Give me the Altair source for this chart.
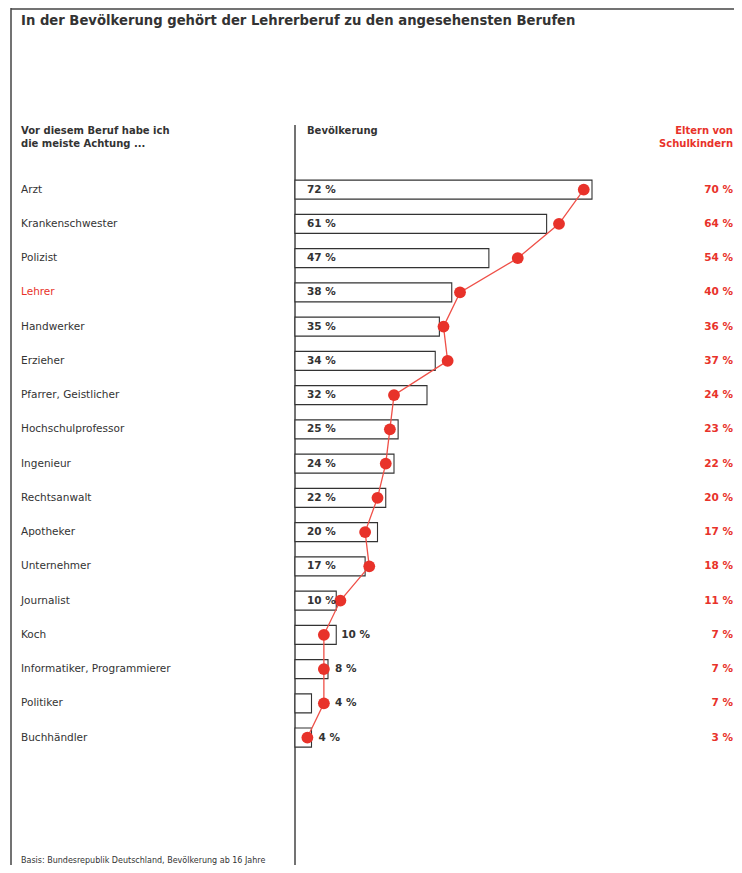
import altair as alt
import pandas as pd
import numpy as np

berufe = ["Arzt", "Krankenschwester", "Polizist", "Lehrer", "Handwerker", "Erzieher",
          "Pfarrer, Geistlicher", "Hochschulprofessor", "Ingenieur", "Rechtsanwalt",
          "Apotheker", "Unternehmer", "Journalist", "Koch",
          "Informatiker, Programmierer", "Politiker", "Buchhändler"]
bevoelkerung = [72, 61, 47, 38, 35, 34, 32, 25, 24, 22, 20, 17, 10, 10, 8, 4, 4]
eltern = [70, 64, 54, 40, 36, 37, 24, 23, 22, 20, 17, 18, 11, 7, 7, 7, 3]

title_text = "In der Bevölkerung gehört der Lehrerberuf zu den angesehensten Berufen"
header_left = ["Vor diesem Beruf habe ich", "die meiste Achtung ..."]
header_mid = "Bevölkerung"
header_right = ["Eltern von", "Schulkindern"]
footnote = "Basis: Bundesrepublik Deutschland, Bevölkerung ab 16 Jahre"

RED = "#e8322a"
DARK = "#333333"
FONT = "DejaVu Sans"

df = pd.DataFrame({
    "beruf": berufe,
    "bev": bevoelkerung,
    "eltern": eltern,
    "rank": list(range(len(berufe))),
})
df["bev_label"] = df["bev"].astype(str) + " %"
df["eltern_label"] = df["eltern"].astype(str) + " %"
df["inside"] = df["eltern"] > 9
df["out_pos"] = np.maximum(df["bev"], df["eltern"] + 1.5)
df["zero"] = 0

W, H = 726, 857
xs = alt.Scale(domain=[0, 100], range=[287, 699.5])
ys = alt.Scale(domain=berufe, range=[164.5, 746.7], paddingInner=0.445, paddingOuter=0.2225)

base = alt.Chart(df)
Y = alt.Y("beruf:N", scale=ys, axis=None)

bars = base.mark_bar(fill="white", stroke=DARK, strokeWidth=1.1).encode(
    x=alt.X("bev:Q", scale=xs, axis=None),
    x2=alt.datum(0),
    y=Y,
)

cat_labels = base.mark_text(align="left", baseline="middle", font=FONT, fontSize=10.5).encode(
    x=alt.value(13),
    y=Y,
    text="beruf:N",
    color=alt.condition(alt.datum.beruf == "Lehrer", alt.value(RED), alt.value(DARK)),
)

in_labels = base.transform_filter(alt.datum.inside).mark_text(
    align="left", baseline="middle", font=FONT, fontSize=10.5, fontWeight="bold", dx=12, color=DARK
).encode(
    x=alt.X("zero:Q", scale=xs, axis=None),
    y=Y,
    text="bev_label:N",
)

out_labels = base.transform_filter(~alt.datum.inside).mark_text(
    align="left", baseline="middle", font=FONT, fontSize=10.5, fontWeight="bold", dx=5, color=DARK
).encode(
    x=alt.X("out_pos:Q", scale=xs, axis=None),
    y=Y,
    text="bev_label:N",
)

line = base.mark_line(color="#ef5048", strokeWidth=1.3).encode(
    x=alt.X("eltern:Q", scale=xs, axis=None),
    y=Y,
    order="rank:Q",
)

dots = base.mark_circle(color=RED, opacity=1, size=140).encode(
    x=alt.X("eltern:Q", scale=xs, axis=None),
    y=Y,
)

right_labels = base.mark_text(align="right", baseline="middle", font=FONT, fontSize=10.5,
                              fontWeight="bold", color=RED).encode(
    x=alt.value(725),
    y=Y,
    text="eltern_label:N",
)

one = alt.Chart(pd.DataFrame({"a": [0]}))

title = one.mark_text(text=title_text, align="left", baseline="middle", font=FONT,
                      fontSize=13.2, fontWeight="bold", color=DARK).encode(
    x=alt.value(13), y=alt.value(13))
h_left = one.mark_text(text=header_left, align="left", baseline="top", font=FONT,
                       fontSize=10, fontWeight="bold", color=DARK, lineHeight=13).encode(
    x=alt.value(13), y=alt.value(118))
h_mid = one.mark_text(text=header_mid, align="left", baseline="top", font=FONT,
                      fontSize=10, fontWeight="bold", color=DARK).encode(
    x=alt.value(299), y=alt.value(118))
h_right = one.mark_text(text=header_right, align="right", baseline="top", font=FONT,
                        fontSize=10, fontWeight="bold", color=RED, lineHeight=13).encode(
    x=alt.value(725), y=alt.value(118))
foot = one.mark_text(text=footnote, align="left", baseline="alphabetic", font=FONT,
                     fontSize=8, color=DARK).encode(
    x=alt.value(13), y=alt.value(855))

frame_left = one.mark_rule(color="#444", strokeWidth=1.5).encode(
    x=alt.value(3), y=alt.value(0), y2=alt.value(H))
frame_top = one.mark_rule(color="#444", strokeWidth=1.5).encode(
    x=alt.value(3), x2=alt.value(W), y=alt.value(1))
axis_line = one.mark_rule(color="#444", strokeWidth=1.5).encode(
    x=alt.value(287), y=alt.value(117), y2=alt.value(H))

chart = alt.layer(
    frame_left, frame_top, axis_line,
    bars, line, dots, in_labels, out_labels, cat_labels, right_labels,
    title, h_left, h_mid, h_right, foot,
).properties(
    width=W, height=H, padding=0, autosize=alt.AutoSizeParams(type="none"),
).configure_view(stroke=None)

chart.save("out.html", embed_options={"renderer": "svg", "actions": False})
